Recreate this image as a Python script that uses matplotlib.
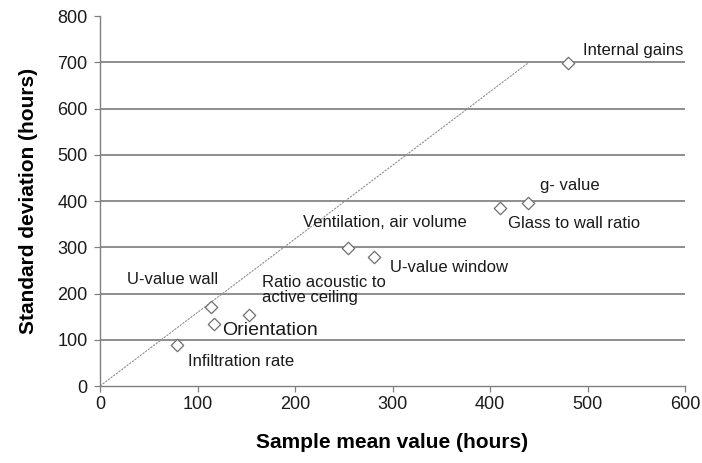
import matplotlib
matplotlib.use("Agg")
import matplotlib.pyplot as plt

# Data
labels = ["Internal gains", "g- value", "Glass to wall ratio", "Ventilation, air volume",
          "U-value window", "U-value wall", "Ratio acoustic to\nactive ceiling",
          "Orientation", "Infiltration rate"]
mean_hours = [480, 439, 410, 254, 281, 114, 153, 117, 79]
std_hours = [698, 395, 384, 299, 278, 170, 154, 134, 89]
label_x = [495, 451, 418, 208, 297, 28, 166, 125, 90]
label_y = [726, 434, 351, 354, 256, 230, 208, 121, 52]
label_size = [12, 12, 12, 12, 12, 12, 12, 14, 12]
ref_line_x = [0, 440]
ref_line_y = [0, 700]
x_ticks = [0, 100, 200, 300, 400, 500, 600]
y_ticks = [0, 100, 200, 300, 400, 500, 600, 700, 800]

plt.rcParams['font.family'] = ['Liberation Sans', 'DejaVu Sans']

fig = plt.figure(figsize=(7.02, 4.63), dpi=100)
ax = fig.add_axes([0.1425, 0.1663, 0.8333, 0.7991])

for yv in y_ticks[1:-1]:
    ax.axhline(yv, color="#7a7a7a", lw=1.2, zorder=1)

ax.plot(ref_line_x, ref_line_y, color="#909090", lw=0.8, ls=(0, (2, 1)), zorder=2)
ax.scatter(mean_hours, std_hours, marker="D", s=40, facecolor="white",
           edgecolor="#707070", linewidth=0.9, zorder=3)

for lab, lx, ly, fs in zip(labels, label_x, label_y, label_size):
    ax.text(lx, ly, lab, fontsize=fs, ha="left", va="center", color="#1a1a1a",
            linespacing=1.05, zorder=4)

ax.set_xlim(0, 600)
ax.set_ylim(0, 800)
ax.set_xticks(x_ticks)
ax.set_yticks(y_ticks)
ax.tick_params(axis="both", labelsize=13, colors="#1a1a1a", length=4, width=0.9,
               color="#808080")
ax.tick_params(axis="y", pad=5)
for s in ["top", "right"]:
    ax.spines[s].set_visible(False)
for s in ["left", "bottom"]:
    ax.spines[s].set_color("#808080")
    ax.spines[s].set_linewidth(1.0)

ax.set_xlabel("Sample mean value (hours)", fontsize=15, fontweight="bold", labelpad=14)
ax.set_ylabel("Standard deviation (hours)", fontsize=15, fontweight="bold", labelpad=14)

fig.savefig("out.png", dpi=100)
